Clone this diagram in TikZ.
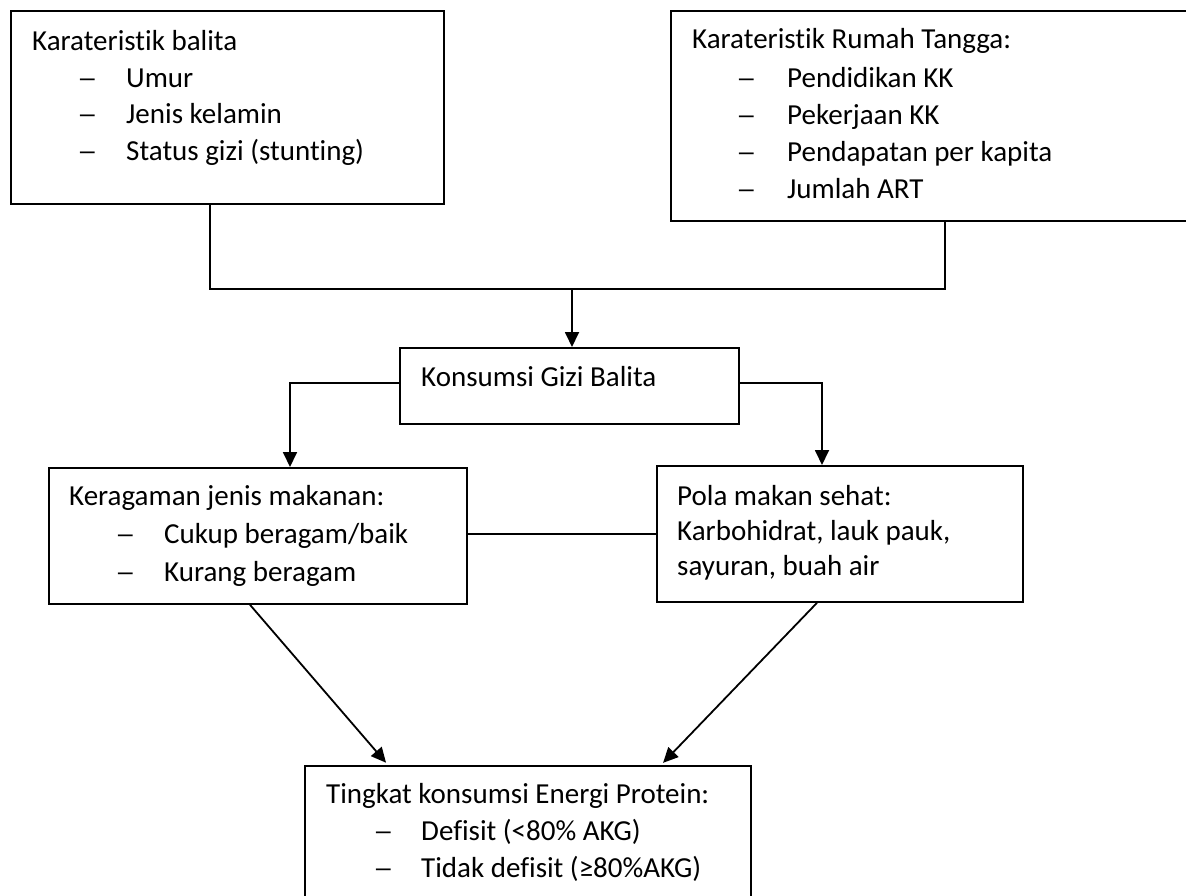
\documentclass[tikz,border=0pt]{standalone}
\usepackage{fontspec}
\setmainfont[Ligatures=NoCommon]{Carlito}
\newfontfamily\dashfont[FakeStretch=1.5]{Carlito}
\usetikzlibrary{arrows.meta}
\tikzset{
  box/.style={draw=black, line width=1.8pt, rectangle, inner sep=0pt, anchor=north west},
  txt/.style={anchor=base west, inner sep=0pt, font=\fontsize{29pt}{35pt}\selectfont},
  dsh/.style={anchor=base west, inner sep=0pt, font=\fontsize{27.5pt}{34pt}\dashfont},
  conn/.style={draw=black, line width=1.8pt},
  arr/.style={conn, -{Triangle[length=15pt,width=14pt]}}
}
\begin{document}
\begin{tikzpicture}[x=1pt,y=-1pt]
\useasboundingbox (0,0) rectangle (1186,895);
% boxes
\node[box, minimum width=433pt, minimum height=193pt] (b1) at (10,10) {};
\node[box, minimum width=530pt, minimum height=210pt] (b2) at (670,10) {};
\node[box, minimum width=339pt, minimum height=76pt] (b3) at (399,347) {};
\node[box, minimum width=418pt, minimum height=136pt] (b5) at (48,467) {};
\node[box, minimum width=366pt, minimum height=136pt] (b6) at (656,465) {};
\node[box, minimum width=446pt, minimum height=150pt] (b7) at (304,765) {};
% texts box1
\node[txt] (t1) at (32,50) {Karateristik balita};
\node[dsh] (t1d1) at (77,87) {–};
\node[txt] (t1a) at (126,87) {Umur};
\node[dsh] (t1d2) at (77,123) {–};
\node[txt] (t1b) at (126,123) {Jenis kelamin};
\node[dsh] (t1d3) at (77,160) {–};
\node[txt] (t1c) at (126,160) {Status gizi (stunting)};
% texts box2
\node[txt] (t2) at (692,48) {Karateristik Rumah Tangga:};
\node[dsh] (t2d1) at (736,87) {–};
\node[txt] (t2a) at (787,87) {Pendidikan KK};
\node[dsh] (t2d2) at (736,124) {–};
\node[txt] (t2b) at (787,124) {Pekerjaan KK};
\node[dsh] (t2d3) at (736,161) {–};
\node[txt] (t2c) at (787,161) {Pendapatan per kapita};
\node[dsh] (t2d4) at (736,198) {–};
\node[txt] (t2e) at (787,198) {Jumlah ART};
% box3
\node[txt] (t3) at (421,386) {Konsumsi Gizi Balita};
% box5
\node[txt] (t5) at (69,505) {Keragaman jenis makanan:};
\node[dsh] (t5d1) at (115,543) {–};
\node[txt] (t5a) at (164,543) {Cukup beragam/baik};
\node[dsh] (t5d2) at (115,581) {–};
\node[txt] (t5b) at (164,581) {Kurang beragam};
% box6
\node[txt] (t6) at (677,505) {Pola makan sehat:};
\node[txt] (t6a) at (677,540) {Karbohidrat, lauk pauk,};
\node[txt] (t6b) at (677,575) {sayuran, buah air};
% box7
\node[txt] (t7) at (326,803) {Tingkat konsumsi Energi Protein:};
\node[dsh] (t7d1) at (373,840) {–};
\node[txt] (t7a) at (421,840) {Defisit (<80\% AKG)};
\node[dsh] (t7d2) at (373,877) {–};
\node[txt] (t7b) at (421,877) {Tidak defisit (≥80\%AKG)};
% connectors
\coordinate (c1) at (210,289);
\coordinate (c2) at (945,289);
\coordinate (j) at (572,289);
\draw[conn] (b1.south -| c1) -- (c1) -- (c2) -- (b2.south -| c2);
\draw[arr] (j) -- (b3.north -| j);
\coordinate (l1) at (290,383);
\coordinate (r1) at (822,383);
\draw[arr] (b3.west |- l1) -- (l1) -- (b5.north -| l1);
\draw[arr] (b3.east |- r1) -- (r1) -- (b6.north -| r1);
\coordinate (m) at (560,534);
\draw[conn] (b5.east |- m) -- (b6.west |- m);
\coordinate (d1s) at (250,0);
\coordinate (d1e) at (388,0);
\coordinate (d2s) at (817,0);
\coordinate (d2e) at (661,0);
\draw[arr, shorten >=3pt] (b5.south -| d1s) -- (b7.north -| d1e);
\draw[arr, shorten >=3pt] (b6.south -| d2s) -- (b7.north -| d2e);
\end{tikzpicture}
\end{document}
